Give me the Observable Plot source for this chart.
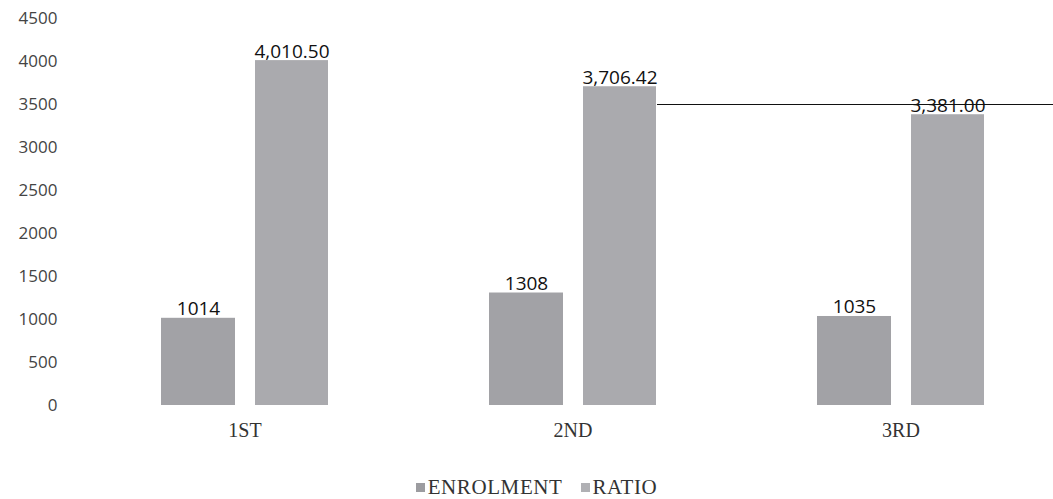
<!DOCTYPE html>
<html>
<head>
<meta charset="utf-8">
<script src="https://cdn.jsdelivr.net/npm/d3@7"></script>
<script src="https://cdn.jsdelivr.net/npm/@observablehq/plot@0.6"></script>
<style>
  html, body { margin: 0; padding: 0; background: #fff; }
  #chart { width: 1053px; height: 499px; overflow: hidden; position: relative; }
  #legend { position: absolute; left: 10px; top: 474px; width: 1053px; display: flex; justify-content: center; font-family: "Liberation Serif"; font-size: 21px; color: #333; letter-spacing: 0.6px; line-height: 26px; }
  #legend .item { display: flex; align-items: center; margin: 0 9px; }
  #legend .sw { width: 9px; height: 9px; margin-right: 3px; }
</style>
</head>
<body>
<div id="chart"></div>
<script>
const categories = ["1ST", "2ND", "3RD"];
const series = ["ENROLMENT", "RATIO"];
const enrolment = [1014, 1308, 1035];
const ratio = [4010.50, 3706.42, 3381.00];
const yTicks = [0, 500, 1000, 1500, 2000, 2500, 3000, 3500, 4000, 4500];
const colors = ["#a2a2a6", "#aaaaae"];
const legendColors = ["#9c9ca0", "#b0b0b4"];
const refLine = [{y: 3500, from: "2ND", to: "3RD"}];

const rowsE = categories.map((c, i) => ({cat: c, series: series[0], value: enrolment[i], label: String(enrolment[i])}));
const rowsR = categories.map((c, i) => ({cat: c, series: series[1], value: ratio[i], label: d3.format(",.2f")(ratio[i])}));

const chart = Plot.plot({
  width: 1053,
  height: 450,
  marginLeft: 80,
  marginRight: -13,
  marginTop: 18,
  marginBottom: 45,
  style: {background: "#fff", overflow: "visible"},
  x: {domain: categories, paddingInner: 0.4286, paddingOuter: 0.2143, label: null},
  y: {domain: [0, 4500], ticks: yTicks, label: null},
  color: {domain: series, range: colors},
  marks: [
    Plot.barY(rowsE, {x: "cat", y: "value", fill: "series", insetLeft: 10, insetRight: 103}),
    Plot.barY(rowsR, {x: "cat", y: "value", fill: "series", insetLeft: 104, insetRight: 10}),
    Plot.text(rowsE, {x: "cat", y: "value", text: "label", dx: -46.5, dy: -3, lineAnchor: "bottom", fontSize: 19, fontFamily: "Open Sans", fill: "#111"}),
    Plot.text(rowsR, {x: "cat", y: "value", text: "label", dx: 47, dy: -3, lineAnchor: "bottom", fontSize: 19, fontFamily: "Open Sans", fill: "#111"}),
    Plot.ruleY(refLine, {y: "y", x1: "from", x2: "to", insetLeft: 178, insetRight: -245, stroke: "#111", strokeWidth: 1.2}),
    Plot.axisY({ticks: yTicks, tickFormat: d => String(d), tickSize: 0, tickPadding: 23, fontSize: 17, fontFamily: "Open Sans", fill: "#444", label: null}),
    Plot.axisX({tickSize: 0, tickPadding: 17, fontSize: 20, fontFamily: "Liberation Serif", fill: "#333", label: null})
  ]
});
document.getElementById("chart").appendChild(chart);

const lw = document.createElement("div");
lw.id = "legend";
series.forEach((s, i) => {
  const item = document.createElement("span");
  item.className = "item";
  const sw = document.createElement("span");
  sw.className = "sw";
  sw.style.background = legendColors[i];
  item.appendChild(sw);
  item.appendChild(document.createTextNode(s));
  lw.appendChild(item);
});
document.getElementById("chart").appendChild(lw);
</script>
</body>
</html>
